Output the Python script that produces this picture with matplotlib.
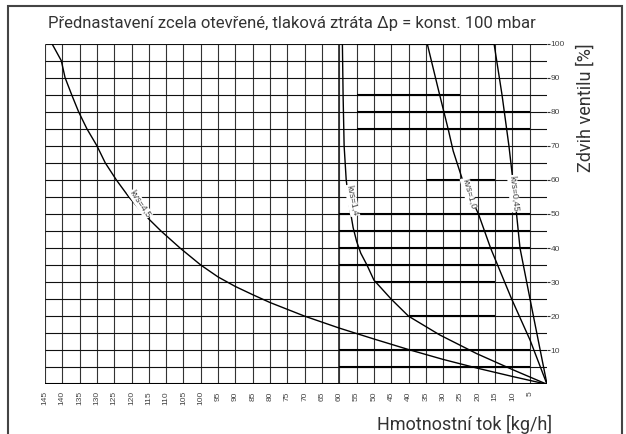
import matplotlib.pyplot as plt
from matplotlib.patches import Rectangle

# ---- data: flow [kg/h] vs valve lift [%] ----
lift_45 = [100, 95, 90, 85, 80, 75, 70, 65, 60, 55, 50, 45, 40, 35, 31.5, 28.7, 26.3, 24, 20, 16.5, 13.3, 10.2, 7.3, 4.7, 2.3, 0]
flow_45 = [143, 140.3, 139.2, 137.3, 135.3, 132.9, 130, 127.6, 124.4, 120.8, 116.5, 111.5, 106, 100, 95, 90, 85, 80, 70, 60, 50, 40, 30, 20, 10, 0]

lift_14 = [100, 85, 70, 60, 52, 46, 42, 38.5, 35, 30.6, 25, 20, 14.5, 9, 4.2, 0]
flow_14 = [59.1, 58.9, 58.6, 58.0, 57.0, 56.0, 55.0, 53.8, 52.0, 50, 45, 40, 31, 20.3, 9.7, 0]

lift_10 = [100, 87, 74.7, 68.5, 60, 50, 40, 25, 13, 0]
flow_10 = [34.6, 31.5, 28.5, 27.1, 24.4, 19.8, 16.3, 10.2, 4.9, 0]

lift_045 = [100, 85, 70, 55, 40, 25, 0]
flow_045 = [15.3, 13, 11, 9.3, 7.8, 4.9, 0]

curves = [
    (flow_45, lift_45, "kvs=4,5", 117.5, 53, -56),
    (flow_14, lift_14, "kvs=1,4", 56.3, 54, -78),
    (flow_10, lift_10, "kvs=1,0", 22.6, 56, -74),
    (flow_045, lift_045, "kvs=0,45", 9.6, 56, -84),
]

x_grid = list(range(5, 150, 5))
y_grid = list(range(5, 105, 5))
x_labels = list(range(5, 150, 5))
y_labels = list(range(10, 110, 10))

# heavier horizontal strokes of the original sheet: (lift, flow from, flow to)
heavy = [(100, 55, 15), (85, 55, 25), (80, 55, 5), (75, 55, 5), (60, 35, 15),
         (50, 60, 5), (45, 60, 5), (40, 60, 5), (35, 60, 15), (30, 50, 15),
         (20, 40, 15), (10, 60, 5), (5, 60, 5), (0, 145, 0)]

num_font = ["Liberation Sans Narrow", "Liberation Sans", "DejaVu Sans"]
txt_font = ["Roboto", "DejaVu Sans"]

fig = plt.figure(figsize=(6.26, 4.34), dpi=100)
ax = fig.add_axes([45 / 626, 1 - 384.3 / 434, (547 - 45) / 626, (384.3 - 43.6) / 434])

ax.vlines(x_grid, 0, 100, color="#333333", lw=0.8)
ax.vlines([60], 0, 100, color="#333333", lw=1.3)
ax.hlines(y_grid, 0, 145, color="#111111", lw=0.8)
for lv, f0, f1 in heavy:
    ax.plot([f0, f1], [lv, lv], color="black", lw=1.5, solid_capstyle="butt")

for fx, ly, name, tx, ty, rot in curves:
    ax.plot(fx, ly, color="black", lw=1.0)
    ax.text(tx, ty, name, rotation=rot, ha="center", va="center", fontsize=6.5,
            color="#444444", family=num_font, rotation_mode="anchor",
            bbox=dict(facecolor="white", edgecolor="none", pad=0.3))

ax.set_xlim(145, 0)
ax.set_ylim(0, 100)
for s in ax.spines.values():
    s.set_visible(False)

ax.set_xticks(x_labels)
ax.set_xticklabels([str(v) for v in x_labels], rotation=90, fontsize=6,
                   color="#444444", family=num_font, va="top")
ax.tick_params(axis="x", length=0, pad=5)
ax.yaxis.tick_right()
ax.set_yticks(y_labels)
ax.set_yticklabels([str(v) for v in y_labels], fontsize=6, color="#444444", family=num_font)
ax.tick_params(axis="y", length=2, width=0.8, pad=0.5, color="#333333")

fig.text(0.467, 0.947, "Přednastavení zcela otevřené, tlaková ztráta Δp = konst. 100 mbar",
         ha="center", va="center", fontsize=12, color="#333333", family=txt_font)
fig.text(0.936, 0.753, "Zdvih ventilu [%]", rotation=90, ha="center", va="center",
         fontsize=13, color="#333333", family=txt_font)
fig.text(0.882, 0.021, "Hmotnostní tok [kg/h]", ha="right", va="center",
         fontsize=13, color="#333333", family=txt_font)

fig.patches.append(Rectangle((8 / 626, -0.1), (622 - 8) / 626, 1.1 - 6 / 434,
                             transform=fig.transFigure, fill=False,
                             edgecolor="#444444", lw=1.5))

fig.savefig("out.png", dpi=100)
